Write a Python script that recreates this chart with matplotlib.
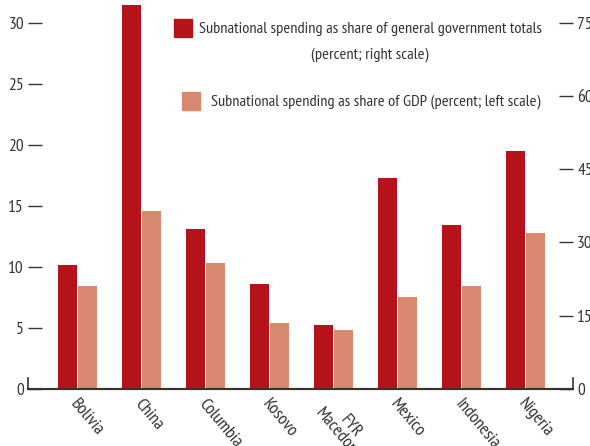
import numpy as np
import matplotlib
matplotlib.use("Agg")
import matplotlib.pyplot as plt
import matplotlib.transforms as mtransforms
from matplotlib.patches import Rectangle

# data
countries = ["Bolivia", "China", "Columbia", "Kosovo", "FYR\nMacedonia",
             "Mexico", "Indonesia", "Nigeria"]
share_gov = [25.4, 78.5, 32.8, 21.5, 13.0, 43.2, 33.5, 48.8]   # right scale
share_gdp = [8.4, 14.6, 10.3, 5.4, 4.8, 7.5, 8.4, 12.8]        # left scale

dark = "#b5121b"
light = "#d98870"
txt = "#333333"

plt.rcParams['font.family'] = ["PT Sans Narrow", "DejaVu Sans"]

W, H = 590, 446
fig = plt.figure(figsize=(W / 100, H / 100), dpi=100)
# axes in pixel coords: left 28, right 573, bottom 389, top 3
ax = fig.add_axes([28 / W, 1 - 389 / H, (573 - 28) / W, (389 - 3) / H])
ax2 = ax.twinx()

x = np.arange(len(countries))
bw = 0.3125
ax2.bar(x - bw / 2, share_gov, width=bw - 0.016, color=dark, zorder=2)
ax.bar(x + bw / 2, share_gdp, width=bw - 0.016, color=light, zorder=2)

x0, x1 = -0.773, 7.742
ax.set_xlim(x0, x1)
ax.set_ylim(0, 31.6)
ax2.set_ylim(0, 31.6 * 2.5)
ax.set_yticks(np.arange(0, 31, 5))
ax2.set_yticks(np.arange(0, 76, 15))

for a in (ax, ax2):
    a.spines['top'].set_visible(False)
    a.spines['left'].set_visible(False)
    a.spines['right'].set_visible(False)
    a.spines['bottom'].set_color(txt)
    a.spines['bottom'].set_linewidth(1.5)
    a.patch.set_visible(False)

ax.tick_params(axis='y', direction='in', length=10, width=1, color=txt,
               labelsize=12.5, labelcolor=txt, pad=3)
ax2.tick_params(axis='y', direction='in', length=10, width=1, color=txt,
                labelsize=12.5, labelcolor=txt, pad=3)
ax.tick_params(axis='x', length=0, pad=5)

# small stubs of the vertical spines near zero
ax.plot([x0, x0], [0, 0.9], color=txt, lw=1.2, clip_on=False)
ax.plot([x1, x1], [0, 0.9], color=txt, lw=1.2, clip_on=False)

ax.set_xticks(x)
labels = ax.set_xticklabels(countries, rotation=-50, ha='left', va='top',
                            rotation_mode='anchor', fontsize=13, color=txt,
                            linespacing=0.9, multialignment='center')
shift = mtransforms.ScaledTranslation(2 / 100, 0, fig.dpi_scale_trans)
for lab in labels:
    lab.set_transform(lab.get_transform() + shift)

# legend drawn by hand
def px(xp, yp):
    return xp / W, 1 - yp / H

fig.patches.append(Rectangle(px(174, 37), 18 / W, 18 / H, color=dark,
                             transform=fig.transFigure, figure=fig))
fig.patches.append(Rectangle(px(182, 110), 18 / W, 18 / H, color=light,
                             transform=fig.transFigure, figure=fig))
fig.text(*px(199, 29), "Subnational spending as share of general government totals",
         ha='left', va='center', fontsize=11.8, color=txt)
fig.text(*px(370, 55), "(percent; right scale)",
         ha='center', va='center', fontsize=11.8, color=txt)
fig.text(*px(211, 102), "Subnational spending as share of GDP (percent; left scale)",
         ha='left', va='center', fontsize=11.8, color=txt)

fig.savefig("out.png", dpi=100)
